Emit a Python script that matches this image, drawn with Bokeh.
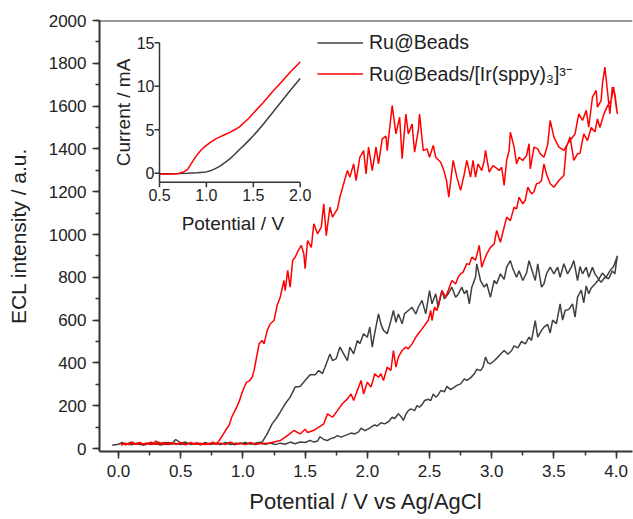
import math
from bokeh.plotting import figure
from bokeh.models import (Range1d, SingleIntervalTicker, PrintfTickFormatter, Span,
                          Legend, LegendItem)
from bokeh.core.properties import value
from bokeh.embed import file_html
from bokeh.resources import INLINE

# ---------------- data (potential V, ECL intensity a.u.) ----------------
ru_forward = [(-0.05,15),(0.0,20),(0.03,28),(0.06,18),(0.10,30),(0.13,22),(0.17,27),(0.20,15),(0.24,25),
    (0.28,20),(0.32,30),(0.36,18),(0.40,28),(0.43,22),(0.46,42),(0.50,25),(0.54,30),(0.58,18),(0.62,25),
    (0.66,20),(0.70,28),(0.74,18),(0.78,25),(0.82,20),(0.86,27),(0.90,18),(0.94,25),(0.98,22),(1.02,28),
    (1.06,20),(1.10,25),(1.13,28),(1.155,30),(1.195,68),(1.235,115),(1.275,146),(1.30,170),(1.34,209),
    (1.38,240),(1.42,287),(1.46,290),(1.50,318),(1.54,345),(1.58,345),(1.61,364),(1.64,350),(1.66,380),
    (1.70,442),(1.72,411),(1.75,420),(1.78,474),(1.81,442),(1.84,411),(1.86,474),(1.89,442),(1.92,505),
    (1.94,490),(1.97,536),(2.00,520),(2.02,567),(2.04,474),(2.06,540),(2.09,629),(2.11,580),(2.13,552),
    (2.16,536),(2.19,598),(2.21,645),(2.23,590),(2.25,629),(2.28,583),(2.30,630),(2.33,645),(2.36,660),
    (2.39,629),(2.41,660),(2.44,692),(2.47,629),(2.50,738),(2.52,676),(2.55,723),(2.57,660),(2.60,738),
    (2.62,700),(2.65,723),(2.68,754),(2.71,707),(2.73,720),(2.76,754),(2.78,723),(2.80,740),(2.82,676),
    (2.84,754),(2.87,800),(2.88,863),(2.91,785),(2.94,754),(2.96,770),(2.99,707),(3.02,785),(3.04,770),
    (3.07,816),(3.10,790),(3.12,847),(3.15,878),(3.17,840),(3.20,800),(3.22,830),(3.25,785),(3.28,820),
    (3.30,878),(3.32,840),(3.35,785),(3.37,863),(3.40,754),(3.42,769),(3.44,816),(3.47,847),(3.50,816),
    (3.53,847),(3.55,800),(3.58,863),(3.61,816),(3.64,847),(3.66,878),(3.69,785),(3.71,850),(3.73,816),
    (3.76,847),(3.78,800),(3.81,847),(3.83,816),(3.86,790),(3.89,820),(3.92,800),(3.95,830),(3.98,850),
    (4.01,900)]
ru_return = [(4.00,860),(3.99,816),(3.97,830),(3.94,793),(3.91,800),(3.88,777),(3.86,790),(3.83,769),
    (3.80,750),(3.78,723),(3.76,760),(3.74,680),(3.72,740),(3.69,707),(3.67,614),(3.65,676),(3.62,650),
    (3.59,645),(3.57,600),(3.55,676),(3.52,583),(3.49,600),(3.47,540),(3.45,580),(3.42,567),(3.40,552),
    (3.37,520),(3.35,598),(3.32,505),(3.30,520),(3.27,489),(3.24,500),(3.21,470),(3.18,480),(3.16,458),
    (3.13,440),(3.10,458),(3.07,440),(3.05,427),(3.02,410),(2.99,396),(2.97,400),(2.95,427),(2.93,380),
    (2.91,364),(2.88,370),(2.86,349),(2.83,330),(2.80,318),(2.78,325),(2.75,302),(2.72,295),(2.70,287),
    (2.67,275),(2.64,290),(2.62,265),(2.59,271),(2.57,250),(2.55,240),(2.53,255),(2.51,224),(2.49,230),
    (2.46,224),(2.44,205),(2.42,193),(2.40,200),(2.38,177),(2.35,185),(2.33,177),(2.31,160),(2.29,131),
    (2.27,150),(2.25,162),(2.22,140),(2.20,146),(2.17,125),(2.14,115),(2.11,120),(2.08,105),(2.06,110),
    (2.03,100),(2.01,92),(1.98,84),(1.95,95),(1.93,78),(1.90,68),(1.87,72),(1.84,65),(1.81,58),(1.79,53),
    (1.76,60),(1.73,50),(1.70,45),(1.68,37),(1.65,42),(1.62,55),(1.60,35),(1.57,30),(1.54,38),(1.50,28),
    (1.46,30),(1.42,22),(1.38,30),(1.34,20),(1.30,25),(1.26,18),(1.22,26),(1.18,20),(1.14,24),(1.10,18),
    (1.06,25),(1.02,20),(0.98,26),(0.94,18),(0.90,22),(0.86,28),(0.82,18),(0.78,24),(0.74,20),(0.70,27),
    (0.66,17),(0.62,23),(0.58,20),(0.54,26),(0.50,18),(0.46,24),(0.42,20),(0.38,28),(0.34,16),(0.30,22),
    (0.26,19),(0.22,25),(0.18,18),(0.14,22),(0.10,17),(0.06,24),(0.02,18)]
ir_forward = [(0.02,15),(0.05,25),(0.08,18),(0.11,30),(0.14,20),(0.17,28),(0.20,18),(0.23,25),(0.27,20),
    (0.30,35),(0.33,22),(0.36,28),(0.40,18),(0.43,25),(0.47,20),(0.50,28),(0.53,18),(0.57,25),(0.60,20),
    (0.63,27),(0.67,18),(0.70,24),(0.73,20),(0.76,30),(0.78,22),(0.80,30),(0.83,55),(0.86,84),(0.89,110),
    (0.91,146),(0.93,170),(0.95,193),(0.97,220),(0.99,255),(1.01,286),(1.03,310),(1.05,315),(1.075,333),
    (1.09,365),(1.10,396),(1.13,489),(1.155,505),(1.17,489),(1.195,551),(1.22,583),(1.25,598),(1.275,668),
    (1.30,707),(1.33,785),(1.34,738),(1.36,832),(1.38,754),(1.40,879),(1.42,894),(1.445,925),(1.47,949),
    (1.49,909),(1.50,840),(1.52,972),(1.55,940),(1.57,1050),(1.60,1003),(1.63,1034),(1.65,1143),
    (1.67,995),(1.70,1128),(1.72,1081),(1.76,1120),(1.78,1175),(1.81,1237),(1.84,1299),(1.86,1268),
    (1.89,1330),(1.91,1252),(1.94,1361),(1.97,1392),(1.99,1283),(2.01,1408),(2.04,1299),(2.07,1408),
    (2.09,1330),(2.12,1447),(2.15,1460),(2.16,1392),(2.20,1603),(2.23,1470),(2.26,1548),(2.28,1354),
    (2.31,1563),(2.33,1470),(2.36,1516),(2.38,1385),(2.41,1486),(2.42,1563),(2.45,1392),(2.48,1400),
    (2.50,1361),(2.53,1416),(2.55,1361),(2.59,1338),(2.615,1299),(2.637,1252),(2.655,1175),(2.69,1346),
    (2.72,1268),(2.75,1206),(2.78,1283),(2.80,1346),(2.83,1268),(2.85,1346),(2.87,1268),(2.89,1330),
    (2.92,1299),(2.94,1346),(2.95,1393),(2.98,1291),(3.01,1322),(3.03,1314),(3.06,1299),(3.08,1314),
    (3.10,1229),(3.12,1346),(3.14,1393),(3.15,1478),(3.18,1408),(3.20,1330),(3.22,1361),(3.25,1346),
    (3.28,1369),(3.30,1424),(3.31,1307),(3.34,1408),(3.37,1400),(3.39,1377),(3.42,1361),(3.45,1420),
    (3.47,1533),(3.50,1455),(3.54,1408),(3.58,1393),(3.61,1424),(3.63,1439),(3.67,1470),(3.70,1564),
    (3.73,1533),(3.76,1580),(3.78,1502),(3.81,1642),(3.84,1673),(3.85,1595),(3.88,1627),(3.89,1704),
    (3.91,1782),(3.93,1673),(3.95,1564),(3.97,1689),(3.99,1658),(4.01,1564)]
ir_return = [(4.00,1600),(3.98,1689),(3.96,1627),(3.93,1600),(3.90,1560),(3.87,1500),(3.85,1540),
    (3.83,1480),(3.80,1500),(3.77,1439),(3.74,1470),(3.71,1380),(3.69,1377),(3.66,1346),(3.63,1455),
    (3.60,1408),(3.58,1276),(3.54,1252),(3.50,1221),(3.47,1237),(3.44,1283),(3.42,1330),(3.40,1252),
    (3.38,1240),(3.36,1237),(3.34,1200),(3.32,1190),(3.29,1221),(3.27,1160),(3.25,1143),(3.22,1174),
    (3.20,1120),(3.18,1128),(3.15,1065),(3.12,1081),(3.10,1034),(3.07,964),(3.04,1019),(3.02,956),
    (2.99,940),(2.96,909),(2.94,880),(2.92,847),(2.90,949),(2.87,880),(2.84,894),(2.82,860),(2.80,864),
    (2.77,824),(2.75,816),(2.73,800),(2.71,769),(2.68,785),(2.66,754),(2.63,707),(2.60,738),(2.58,692),
    (2.56,645),(2.54,660),(2.52,598),(2.51,645),(2.49,598),(2.47,583),(2.44,559),(2.41,536),(2.39,520),
    (2.36,489),(2.33,466),(2.31,474),(2.28,458),(2.25,427),(2.23,380),(2.21,458),(2.19,365),(2.16,380),
    (2.13,318),(2.11,349),(2.09,333),(2.06,349),(2.03,287),(2.00,310),(1.97,255),(1.95,318),(1.92,271),
    (1.89,224),(1.87,255),(1.84,232),(1.80,209),(1.76,177),(1.72,146),(1.68,162),(1.65,115),(1.61,100),
    (1.57,85),(1.52,75),(1.50,90),(1.46,68),(1.41,84),(1.36,61),(1.30,37),(1.25,30),(1.20,23),(1.14,25),
    (1.10,20),(1.06,28),(1.02,18),(0.98,24),(0.94,20),(0.90,30),(0.86,18),(0.82,25),(0.78,20),(0.74,26),
    (0.70,18),(0.66,24),(0.62,20),(0.58,28),(0.54,17),(0.50,25),(0.46,20),(0.42,27),(0.38,18),(0.34,24),
    (0.30,20),(0.26,30),(0.22,18),(0.18,25),(0.14,20),(0.10,26),(0.06,18),(0.02,22)]

# inset: cyclic voltammetry current (mA)
cv_potential_ru = [0.5,0.6,0.7,0.8,0.9,1.0,1.05,1.1,1.15,1.2,1.25,1.3,1.35,1.4,1.45,1.5,1.6,1.7,1.8,1.9,2.0]
cv_current_ru = [-0.05,-0.05,-0.04,0.0,0.05,0.15,0.3,0.55,0.85,1.25,1.65,2.15,2.7,3.2,3.75,4.3,5.55,6.9,8.25,9.6,10.9]
cv_potential_ir = [0.5,0.6,0.7,0.75,0.8,0.85,0.9,0.95,1.0,1.05,1.1,1.15,1.2,1.25,1.3,1.35,1.4,1.45,1.5,1.6,1.7,1.8,1.9,2.0]
cv_current_ir = [-0.08,-0.08,-0.05,0.1,0.45,1.3,2.1,2.75,3.2,3.6,3.95,4.2,4.45,4.7,5.0,5.3,5.8,6.3,6.9,8.05,9.3,10.5,11.7,12.8]

main_x_ticks_interval = 0.5
main_y_ticks_interval = 200
inset_x_ticks = [0.5, 1.0, 1.5, 2.0]
inset_x_tick_labels = ["0.5", "1.0", "1.5", "2.0"]
inset_y_ticks = [0, 5, 10, 15]
inset_y_tick_labels = ["0", "5", "10", "15"]

legend_labels = ["Ru@Beads", "Ru@Beads/[Ir(sppy)\u2083]\u00b3\u207b"]
x_label = "Potential / V vs Ag/AgCl"
y_label = "ECL intensity / a.u."

# ---------------- layout constants (canvas px; Bokeh page has no body margin) ----------------
FONT = "Liberation Sans"
AX = "#333333"
GRAY = "#404040"
RED = "#ff0000"
W, H = 633, 519
FL, FR, FT, FB = 99, 632, 20, 451
X0PX, XPPU = 118.0, 124.4
Y0PX, YPPU = 448.0, 0.214
xr = Range1d((FL - X0PX) / XPPU, (FR - X0PX) / XPPU)
yr = Range1d((Y0PX - FB) / YPPU, (Y0PX - FT) / YPPU)

IX_L, IX_R = 159.0, 299.7
IY_0, IY_15 = 172.7, 42.3
IY_B = 181.7
ippx = (IX_R - IX_L) / 1.5
ippy = (IY_0 - IY_15) / 15.0
ix = Range1d(0.5 - (IX_L - FL) / ippx, 2.0 + (FR - IX_R) / ippx)
iy = Range1d(-(FB - IY_0) / ippy, 15 + (IY_15 - FT) / ippy)
ib = -(IY_B - IY_0) / ippy

p = figure(width=W, height=H, x_range=xr, y_range=yr, output_backend="svg",
           toolbar_location=None, min_border_left=FL, min_border_right=W - FR,
           min_border_top=FT, min_border_bottom=H - FB)
p.outline_line_color = None
p.grid.visible = False
p.background_fill_color = "white"
p.extra_x_ranges = {"ix": ix}
p.extra_y_ranges = {"iy": iy}

for ax in (p.xaxis[0], p.yaxis[0]):
    ax.axis_line_width = 2
    ax.axis_line_color = AX
    ax.major_tick_line_color = AX
    ax.minor_tick_line_color = AX
    ax.major_tick_line_width = 1.5
    ax.minor_tick_line_width = 1.5
    ax.major_tick_out = 7
    ax.major_tick_in = 0
    ax.minor_tick_out = 4
    ax.minor_tick_in = 0
    ax.major_label_text_font = FONT
    ax.major_label_text_font_size = "17px"
    ax.major_label_text_color = "#222222"
    ax.axis_label_text_font = FONT
    ax.axis_label_text_font_style = "normal"
    ax.axis_label_text_color = "#222222"

p.xaxis.ticker = SingleIntervalTicker(interval=main_x_ticks_interval, num_minor_ticks=2)
p.xaxis.formatter = PrintfTickFormatter(format="%.1f")
p.xaxis.major_label_standoff = 6
p.xaxis.axis_label = x_label
p.xaxis.axis_label_text_font_size = "22px"
p.xaxis.axis_label_standoff = 9
p.yaxis.ticker = SingleIntervalTicker(interval=main_y_ticks_interval, num_minor_ticks=2)
p.yaxis.major_label_standoff = 6
p.yaxis.axis_label = y_label
p.yaxis.axis_label_text_font_size = "21px"
p.yaxis.axis_label_standoff = 16

p.add_layout(Span(location=yr.end, dimension="width", line_color=AX, line_width=2))

def split(pairs):
    return [a for a, _ in pairs], [b for _, b in pairs]

rv1, ri1 = split(ru_forward)
rv2, ri2 = split(ru_return)
iv1, ii1 = split(ir_forward)
iv2, ii2 = split(ir_return)

r_ru = p.line(rv1 + rv2, ri1 + ri2, line_color=GRAY, line_width=1.5)
r_ir = p.line(iv1 + iv2, ii1 + ii2, line_color=RED, line_width=1.5)

legend = Legend(items=[LegendItem(label=legend_labels[0], renderers=[r_ru]),
                       LegendItem(label=legend_labels[1], renderers=[r_ir])],
                location=(218, 364), orientation="vertical")
legend.border_line_color = None
legend.background_fill_alpha = 0
legend.padding = 5
legend.margin = 0
legend.spacing = 4
legend.glyph_width = 46
legend.glyph_height = 27
legend.label_height = 27
legend.label_standoff = 6
legend.label_text_font = FONT
legend.label_text_font_size = "19.5px"
legend.label_text_color = "#222222"
p.add_layout(legend)

# ---------------- inset ----------------
kw = dict(x_range_name="ix", y_range_name="iy")
p.line(cv_potential_ru, cv_current_ru, line_color=GRAY, line_width=1.5, **kw)
p.line(cv_potential_ir, cv_current_ir, line_color=RED, line_width=1.5, **kw)
p.segment(x0=[inset_x_ticks[0], inset_x_ticks[0]], y0=[ib, ib],
          x1=[inset_x_ticks[0], inset_x_ticks[-1]], y1=[inset_y_ticks[-1], ib],
          line_color=AX, line_width=1.5, **kw)
tx = 5.0 / ippx
ty = 5.0 / ippy
p.segment(x0=[inset_x_ticks[0]] * len(inset_y_ticks), y0=inset_y_ticks,
          x1=[inset_x_ticks[0] - tx] * len(inset_y_ticks), y1=inset_y_ticks,
          line_color=AX, line_width=1.5, **kw)
p.segment(x0=inset_x_ticks, y0=[ib] * len(inset_x_ticks),
          x1=inset_x_ticks, y1=[ib - ty] * len(inset_x_ticks),
          line_color=AX, line_width=1.5, **kw)
p.text(x=[inset_x_ticks[0]] * len(inset_y_ticks), y=inset_y_ticks, text=inset_y_tick_labels,
       x_offset=-5, text_align="right", text_baseline="middle", text_font=value(FONT),
       text_font_size="16px", text_color="#222222", **kw)
p.text(x=inset_x_ticks, y=[ib] * len(inset_x_ticks), text=inset_x_tick_labels,
       y_offset=7, text_align="center", text_baseline="top", text_font=value(FONT),
       text_font_size="16px", text_color="#222222", **kw)
p.text(x=[inset_x_ticks[0]], y=[(ib + inset_y_ticks[-1]) / 2], text=["Current / mA"],
       x_offset=-36, angle=math.pi / 2, text_align="center", text_baseline="middle",
       text_font=value(FONT), text_font_size="19px", text_color="#222222", **kw)
p.text(x=[(inset_x_ticks[0] + inset_x_ticks[-1]) / 2], y=[ib], text=["Potential / V"],
       x_offset=3, y_offset=41, text_align="center", text_baseline="middle",
       text_font=value(FONT), text_font_size="19px", text_color="#222222", **kw)

open("out.html", "w").write(file_html(p, INLINE))
